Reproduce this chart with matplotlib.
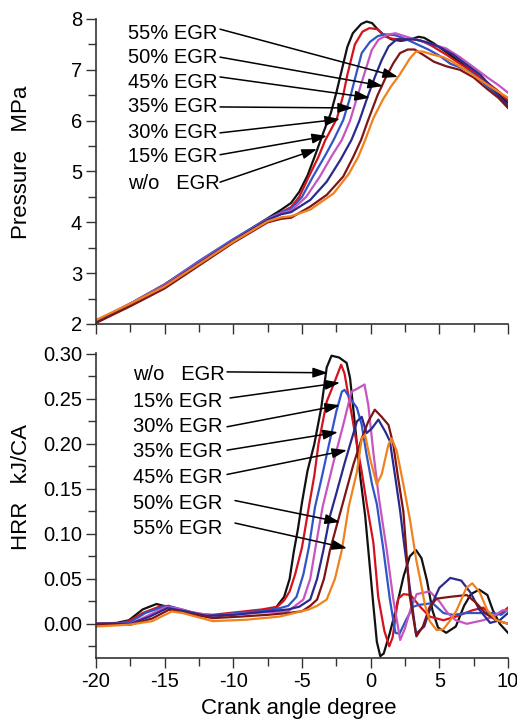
import matplotlib.pyplot as plt
from matplotlib.ticker import MultipleLocator, FormatStrFormatter

plt.rcParams['font.family'] = ['Liberation Sans', 'DejaVu Sans']
plt.rcParams['axes.unicode_minus'] = False

# легенда / подписи кривых
labels = ['w/o   EGR', '15% EGR', '30% EGR', '35% EGR', '45% EGR', '50% EGR', '55% EGR']
colors = ['#111111', '#d4121e', '#2f55c8', '#c755c0', '#2a2a8e', '#7e1515', '#f0821e']

# давление, МПа
p_wo_x = [-20, -17.5, -15, -12.5, -10, -7.5, -6.5, -5.8, -5.2, -4.6, -4.0, -3.4, -2.9, -2.5, -2.1, -1.7, -1.3, -0.7, -0.3, 0.1,
          0.5, 0.9, 1.5, 2.2, 2.9, 3.5, 3.9, 4.6, 5.5, 6.5, 7.5, 8.5, 9.3, 10]
p_wo_y = [2.05, 2.40, 2.78, 3.22, 3.66, 4.08, 4.25, 4.38, 4.60, 4.92, 5.35, 5.80, 6.15, 6.55, 7.00, 7.45, 7.72, 7.90, 7.95, 7.92,
          7.80, 7.70, 7.60, 7.57, 7.60, 7.65, 7.63, 7.52, 7.35, 7.15, 6.95, 6.72, 6.52, 6.35]
p_15_x = [-20, -17.5, -15, -12.5, -10, -7.5, -6.5, -5.8, -5.2, -4.5, -3.8, -3.3, -2.9, -2.45, -2.0, -1.7, -1.15, -0.6, -0.1, 0.5,
          1.0, 1.6, 2.3, 3.0, 3.6, 4.4, 5.5, 6.5, 7.5, 8.5, 9.3, 10]
p_15_y = [2.06, 2.40, 2.76, 3.20, 3.63, 4.05, 4.20, 4.30, 4.50, 4.90, 5.29, 5.62, 5.82, 6.05, 6.50, 6.90, 7.50, 7.75, 7.82, 7.80,
          7.66, 7.61, 7.60, 7.60, 7.58, 7.48, 7.30, 7.12, 6.95, 6.75, 6.58, 6.40]
p_30_x = [-20, -17.5, -15, -12.5, -10, -7.5, -6.5, -5.8, -5.0, -4.2, -3.3, -2.7, -2.0, -1.5, -1.1, -0.65, -0.05, 0.5, 1.0, 1.8,
          2.6, 3.4, 4.2, 5.0, 5.8, 6.5, 7.3, 8.2, 9.0, 10]
p_30_y = [2.04, 2.40, 2.78, 3.24, 3.67, 4.07, 4.20, 4.27, 4.50, 4.90, 5.32, 5.62, 6.01, 6.45, 6.87, 7.33, 7.55, 7.66, 7.70, 7.68,
          7.60, 7.50, 7.40, 7.28, 7.12, 7.05, 6.95, 6.75, 6.55, 6.30]
p_35_x = [-20, -17.5, -15, -12.5, -10, -7.5, -6.5, -5.8, -4.7, -3.7, -2.85, -2.1, -1.5, -1.0, -0.6, -0.3, 0.08, 0.56, 1.2, 1.8,
          2.5, 3.5, 4.5, 5.5, 6.5, 7.5, 8.5, 9.3, 10]
p_35_y = [2.05, 2.40, 2.77, 3.22, 3.65, 4.06, 4.18, 4.23, 4.50, 4.90, 5.30, 5.62, 6.00, 6.45, 6.80, 7.06, 7.39, 7.59, 7.69, 7.72,
          7.66, 7.58, 7.50, 7.42, 7.25, 7.05, 6.85, 6.70, 6.55]
p_45_x = [-20, -17.5, -15, -12.5, -10, -7.5, -6.5, -5.8, -4.4, -3.2, -2.2, -1.4, -0.82, -0.25, 0.32, 0.8, 1.3, 1.9, 2.6, 3.2,
          4.0, 5.0, 6.0, 7.0, 8.0, 9.0, 10]
p_45_y = [2.03, 2.38, 2.75, 3.20, 3.64, 4.05, 4.16, 4.20, 4.44, 4.80, 5.23, 5.62, 6.00, 6.45, 6.87, 7.19, 7.46, 7.60, 7.60, 7.60,
          7.55, 7.45, 7.30, 7.10, 6.90, 6.60, 6.28]
p_50_x = [-20, -17.5, -15, -12.5, -10, -7.5, -6.5, -5.8, -4.4, -3.2, -2.0, -1.3, -0.7, -0.2, 0.5, 1.1, 1.65, 2.14, 2.7, 3.2,
          3.8, 4.6, 5.5, 6.5, 7.5, 8.5, 9.3, 10]
p_50_y = [2.02, 2.35, 2.70, 3.15, 3.60, 4.00, 4.07, 4.09, 4.31, 4.54, 4.90, 5.27, 5.62, 6.00, 6.50, 6.85, 7.13, 7.33, 7.40, 7.40,
          7.30, 7.16, 7.07, 7.00, 6.85, 6.62, 6.45, 6.25]
p_55_x = [-20, -17.5, -15, -12.5, -10, -7.5, -6.5, -5.8, -4.4, -2.7, -1.6, -0.9, -0.4, 0.2, 0.9, 1.5, 2.1, 2.87, 3.3, 3.8,
          4.5, 5.3, 6.0, 7.0, 8.0, 9.0, 10]
p_55_y = [2.08, 2.40, 2.74, 3.18, 3.62, 4.02, 4.10, 4.12, 4.25, 4.57, 4.95, 5.29, 5.62, 6.05, 6.42, 6.68, 6.90, 7.23, 7.36, 7.36,
          7.30, 7.25, 7.15, 6.98, 6.80, 6.62, 6.45]

# тепловыделение HRR, кДж/град
h_wo_x = [-20, -18.5, -17.6, -16.6, -15.6, -14.8, -13.7, -12.7, -11.5, -10.3, -9.1, -7.9, -6.9, -6.3, -5.9, -5.6, -5.3, -5.0,
          -4.6, -4.1, -3.6, -3.2, -2.85, -2.3, -1.75, -1.5, -1.1, -0.77, -0.4, -0.1, 0.2, 0.45, 0.7, 0.95, 1.4, 1.9, 2.4,
          2.85, 3.3, 3.7, 4.1, 4.5, 4.9, 5.5, 6.2, 6.8, 7.3, 7.9, 8.5, 8.9, 9.4, 10]
h_wo_y = [0.0, 0.001, 0.004, 0.016, 0.022, 0.019, 0.014, 0.010, 0.008, 0.010, 0.012, 0.014, 0.018, 0.030, 0.050, 0.080, 0.105,
          0.135, 0.170, 0.200, 0.240, 0.285, 0.298, 0.296, 0.290, 0.273, 0.215, 0.165, 0.120, 0.070, 0.020, -0.020, -0.036,
          -0.033, -0.010, 0.020, 0.053, 0.075, 0.082, 0.073, 0.048, 0.015, -0.004, -0.010, -0.003, 0.020, 0.033, 0.038,
          0.032, 0.015, 0.0, -0.010]
h_15_x = [-20, -18.5, -17.6, -16.6, -15.4, -14.7, -13.7, -12.5, -11.5, -10.3, -9.1, -7.9, -6.8, -6.3, -5.9, -5.5, -5.0, -4.5,
          -4.1, -3.8, -3.2, -2.7, -2.15, -1.9, -1.5, -1.0, -0.65, -0.25, 0.2, 0.55, 1.0, 1.35, 1.6, 2.0, 2.4, 2.9, 3.6, 4.3,
          5.3, 6.2, 7.4, 8.2, 8.9, 9.6, 10]
h_15_y = [0.0, 0.0, 0.003, 0.012, 0.019, 0.020, 0.015, 0.011, 0.010, 0.012, 0.014, 0.016, 0.019, 0.026, 0.036, 0.055, 0.085,
          0.130, 0.165, 0.200, 0.247, 0.266, 0.288, 0.278, 0.243, 0.199, 0.169, 0.130, 0.090, 0.030, -0.008, -0.025, -0.015,
          0.028, 0.033, 0.032, 0.019, 0.008, 0.004, 0.008, 0.015, 0.018, 0.008, 0.013, 0.018]
h_30_x = [-20, -18.5, -17.5, -16.4, -15.1, -14.4, -13.5, -12.5, -11.5, -10.3, -9.1, -7.9, -6.6, -6.0, -5.4, -4.9, -4.5, -4.05,
          -3.6, -3.2, -2.5, -2.1, -1.9, -1.6, -1.0, -0.65, -0.3, 0.1, 0.45, 0.93, 1.4, 1.8, 2.1, 2.6, 3.1, 3.5, 4.5, 5.3,
          6.0, 7.0, 8.0, 8.9, 9.5, 10]
h_30_y = [0.0, 0.0, 0.002, 0.012, 0.019, 0.0185, 0.015, 0.010, 0.009, 0.011, 0.013, 0.014, 0.0175, 0.020, 0.030, 0.055, 0.085,
          0.130, 0.160, 0.188, 0.236, 0.258, 0.260, 0.253, 0.240, 0.221, 0.188, 0.155, 0.133, 0.082, 0.027, -0.010, -0.011,
          0.005, 0.019, 0.021, 0.023, 0.012, 0.010, 0.012, 0.012, 0.012, 0.010, 0.016]
h_35_x = [-20, -17.5, -16.1, -14.9, -14.2, -13.0, -11.5, -9.5, -7.5, -6.0, -5.5, -4.9, -4.4, -4.05, -3.5, -3.1, -2.7, -2.0,
          -1.4, -0.9, -0.45, -0.17, 0.2, 0.6, 1.17, 1.65, 2.15, 2.5, 2.9, 3.35, 4.3, 5.0, 5.6, 6.2, 7.0, 8.2, 8.9, 9.6, 10]
h_35_y = [0.0, 0.0, 0.010, 0.0185, 0.0175, 0.013, 0.009, 0.011, 0.013, 0.014, 0.020, 0.027, 0.050, 0.082, 0.130, 0.155, 0.180,
          0.221, 0.258, 0.262, 0.266, 0.243, 0.190, 0.140, 0.082, 0.027, -0.018, -0.005, 0.016, 0.033, 0.036, 0.025, 0.012,
          0.004, 0.0, 0.004, 0.008, 0.015, 0.015]
h_45_x = [-20, -17.5, -16.1, -14.8, -13.5, -12.0, -10.0, -8.0, -6.0, -5.2, -4.4, -3.9, -3.44, -2.96, -2.5, -1.87, -1.0, -0.65,
          -0.3, 0.08, 0.56, 1.05, 1.4, 1.8, 2.15, 2.4, 2.85, 3.3, 3.9, 4.4, 5.0, 5.8, 6.6, 7.3, 7.9, 8.7, 9.4, 10]
h_45_y = [0.0, 0.0, 0.008, 0.0175, 0.014, 0.009, 0.010, 0.013, 0.016, 0.019, 0.027, 0.050, 0.082, 0.120, 0.145, 0.180, 0.225,
          0.230, 0.212, 0.217, 0.227, 0.214, 0.203, 0.162, 0.125, 0.093, 0.040, -0.011, -0.003, 0.020, 0.040, 0.051, 0.048,
          0.034, 0.016, 0.001, 0.004, 0.012]
h_50_x = [-20, -17.5, -15.9, -14.7, -13.5, -11.5, -9.5, -7.5, -6.0, -5.0, -4.4, -3.9, -3.4, -2.96, -2.1, -1.26, -0.65, -0.17,
          0.3, 0.8, 1.3, 1.65, 2.0, 2.38, 2.6, 2.85, 3.33, 3.8, 4.3, 4.8, 5.8, 7.0, 7.7, 8.4, 9.15, 10]
h_50_y = [-0.001, -0.001, 0.006, 0.0156, 0.012, 0.0063, 0.008, 0.010, 0.012, 0.014, 0.020, 0.027, 0.050, 0.082, 0.130, 0.177,
          0.206, 0.225, 0.238, 0.230, 0.221, 0.199, 0.162, 0.125, 0.080, 0.030, -0.014, -0.003, 0.019, 0.028, 0.030, 0.032,
          0.023, 0.011, 0.004, 0.0]
h_55_x = [-20, -17.6, -15.9, -14.5, -13.7, -11.5, -9.1, -6.65, -5.56, -4.5, -3.9, -3.2, -2.6, -2.1, -1.6, -1.0, -0.65, -0.41,
          -0.05, 0.44, 0.8, 1.29, 1.53, 1.9, 2.38, 2.87, 3.33, 3.6, 3.94, 4.3, 4.8, 5.3, 5.8, 6.26, 6.97, 7.4, 7.94, 8.5,
          9.15, 10]
h_55_y = [-0.003, -0.001, 0.003, 0.0137, 0.012, 0.003, 0.0045, 0.008, 0.012, 0.016, 0.020, 0.027, 0.050, 0.082, 0.130, 0.169,
          0.206, 0.210, 0.184, 0.155, 0.166, 0.199, 0.206, 0.192, 0.155, 0.115, 0.070, 0.050, 0.022, 0.003, -0.007, -0.006,
          0.004, 0.015, 0.040, 0.045, 0.035, 0.015, 0.004, 0.0]

pressure = [(p_wo_x, p_wo_y), (p_15_x, p_15_y), (p_30_x, p_30_y), (p_35_x, p_35_y),
            (p_45_x, p_45_y), (p_50_x, p_50_y), (p_55_x, p_55_y)]
hrr = [(h_wo_x, h_wo_y), (h_15_x, h_15_y), (h_30_x, h_30_y), (h_35_x, h_35_y),
       (h_45_x, h_45_y), (h_50_x, h_50_y), (h_55_x, h_55_y)]

fig = plt.figure(figsize=(5.17, 7.2), dpi=100)
ax1 = fig.add_axes([96 / 517, 396 / 720, 412 / 517, 305 / 720])
ax2 = fig.add_axes([96 / 517, 62 / 720, 412 / 517, 305 / 720])

for (x, y), c in zip(pressure, colors):
    ax1.plot(x, y, color=c, lw=1.6)
for (x, y), c in zip(hrr, colors):
    ax2.plot(x, y, color=c, lw=1.6)


def style(ax):
    for s in ['top', 'right']:
        ax.spines[s].set_visible(False)
    for s in ['left', 'bottom']:
        ax.spines[s].set_linewidth(1.2)
        ax.spines[s].set_color('#333333')
    ax.set_xlim(-20, 10)
    ax.xaxis.set_major_locator(MultipleLocator(5))
    ax.xaxis.set_minor_locator(MultipleLocator(2.5))
    ax.tick_params(which='both', direction='out', labelsize=14.5, width=1.0, color='#333333', pad=3)
    ax.tick_params(which='major', length=7)
    ax.tick_params(which='minor', length=6)


style(ax1)
style(ax2)

ax1.set_ylim(2, 8)
ax1.yaxis.set_major_locator(MultipleLocator(1))
ax1.yaxis.set_minor_locator(MultipleLocator(0.5))
ax1.tick_params(axis='x', labelbottom=False)
ax1.set_ylabel('Pressure   MPa', fontsize=16)
ax1.yaxis.set_label_coords(-0.155, 0.53)

ax2.set_ylim(-0.038, 0.301)
ax2.yaxis.set_major_locator(MultipleLocator(0.05))
ax2.yaxis.set_minor_locator(MultipleLocator(0.025))
ax2.yaxis.set_major_formatter(FormatStrFormatter('%.2f'))
ax2.set_ylabel('HRR   kJ/CA', fontsize=16)
ax2.yaxis.set_label_coords(-0.155, 0.56)
ax2.set_xlabel('Crank angle degree', fontsize=16)
ax2.xaxis.set_label_coords(0.493, -0.13)

arrow = dict(arrowstyle='-|>,head_length=0.75,head_width=0.25', color='black', lw=1.1,
             mutation_scale=12, shrinkA=0, shrinkB=0)

# подписи и стрелки: верхний график (сверху вниз 55% ... w/o)
top_text_y = [7.72, 7.25, 6.76, 6.27, 5.76, 5.29, 4.77]
top_tail = [(-10.97, 7.80), (-10.97, 7.25), (-10.97, 6.86), (-10.97, 6.27), (-10.97, 5.76), (-10.97, 5.33), (-10.97, 4.79)]
top_head = [(1.99, 6.86), (0.90, 6.68), (-0.05, 6.45), (-1.29, 6.25), (-2.23, 6.03), (-3.18, 5.70), (-3.91, 5.44)]
for lab, ty, t, h in zip(labels[::-1], top_text_y, top_tail, top_head):
    ax1.text(-17.67, ty, lab, fontsize=14.5, ha='left', va='center')
    ax1.annotate('', xy=h, xytext=t, arrowprops=arrow)

# нижний график (сверху вниз w/o ... 55%)
bot_text_y = [0.277, 0.247, 0.219, 0.191, 0.163, 0.134, 0.106]
bot_tail = [(-10.46, 0.280), (-10.24, 0.251), (-10.46, 0.219), (-10.46, 0.193), (-10.46, 0.166),
            (-9.88, 0.137), (-9.88, 0.112)]
bot_head = [(-3.11, 0.279), (-2.23, 0.268), (-2.23, 0.243), (-2.38, 0.213), (-1.72, 0.193),
            (-2.23, 0.113), (-1.72, 0.084)]
for lab, ty, t, h in zip(labels, bot_text_y, bot_tail, bot_head):
    ax2.text(-17.3, ty, lab, fontsize=14.5, ha='left', va='center')
    ax2.annotate('', xy=h, xytext=t, arrowprops=arrow)

fig.savefig('out.png', dpi=100)
